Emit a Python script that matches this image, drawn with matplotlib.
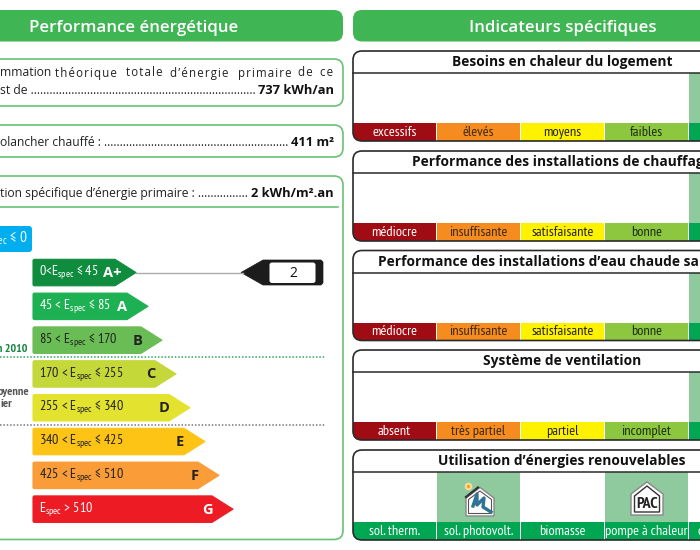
import matplotlib
matplotlib.use("Agg")
import matplotlib.pyplot as plt
from matplotlib import font_manager as fm
from matplotlib.patches import FancyBboxPatch, Polygon, Rectangle

installed = {f.name for f in fm.fontManager.ttflist}
NARROW_NAME = next((n for n in ['PT Sans Narrow', 'Archivo Narrow', 'Roboto Condensed', 'Liberation Sans Narrow'] if n in installed), 'Roboto')
NARROW = [NARROW_NAME, 'DejaVu Sans']

plt.rcParams['font.family'] = ['Open Sans', 'DejaVu Sans']
plt.rcParams['mathtext.fontset'] = 'custom'
plt.rcParams['mathtext.rm'] = NARROW_NAME

GREEN = '#40b553'
LINE = '#68c175'
PALE = '#8fc99e'

# energy classes
classes = ['A+', 'A', 'B', 'C', 'D', 'E', 'F', 'G']
ranges = [r'0<E$_{\mathrm{spec}}$ ≤ 45', r'45 < E$_{\mathrm{spec}}$ ≤ 85', r'85 < E$_{\mathrm{spec}}$ ≤ 170',
          r'170 < E$_{\mathrm{spec}}$ ≤ 255', r'255 < E$_{\mathrm{spec}}$ ≤ 340', r'340 < E$_{\mathrm{spec}}$ ≤ 425',
          r'425 < E$_{\mathrm{spec}}$ ≤ 510', r'E$_{\mathrm{spec}}$ > 510']
class_colors = ['#0f8c3e', '#1eb153', '#6abd54', '#c5d83a', '#e3e32f', '#fdc416', '#fa9c37', '#ed1c24']
class_text = ['white', 'white', '#222222', '#222222', '#222222', '#222222', '#222222', 'white']
letter_x = [112, 122, 137.5, 151, 164, 179.5, 194.5, 207]
arrow_tips = [136, 148, 162, 176, 190, 205, 219, 233]
value = 2

# first text line, spread out word by word like the justified original
line_words = ['théorique', 'totale', 'd’énergie', 'primaire', 'de', 'ce']
line_x = [55, 126, 170, 238, 298, 320]

# indicators
panel_titles = ['Besoins en chaleur du logement', 'Performance des installations de chauffage',
                "Performance des installations d’eau chaude sanitaire", 'Système de ventilation',
                'Utilisation d’énergies renouvelables']
panel_labels = [['excessifs', 'élevés', 'moyens', 'faibles', ''],
                ['médiocre', 'insuffisante', 'satisfaisante', 'bonne', ''],
                ['médiocre', 'insuffisante', 'satisfaisante', 'bonne', ''],
                ['absent', 'très partiel', 'partiel', 'incomplet', ''],
                ['sol. therm.', 'sol. photovolt.', 'biomasse', 'pompe à chaleur', 'cogénération']]
strip_colors = ['#a00c14', '#f68b1f', '#fff200', '#8dc63f', '#00a651']
strip_text = ['white', '#3a2a10', '#222222', '#1d2d10', 'white']
panel_tops = [51, 151, 250.5, 350, 450]

fig = plt.figure(figsize=(7, 5.5), dpi=100)
ax = fig.add_axes([0, 0, 1, 1])
ax.set_xlim(0, 700)
ax.set_ylim(550, 0)
ax.axis('off')


def rbox(x0, y0, x1, y1, r, fc='none', ec='none', lw=1.0, z=1):
    p = FancyBboxPatch((x0, y0), x1 - x0, y1 - y0, boxstyle=f'round,pad=0,rounding_size={r}',
                       fc=fc, ec=ec, lw=lw, zorder=z)
    ax.add_patch(p)
    return p


def house(cx, hw, apex, eave, bottom, fc, ec, lw, z=5):
    pts = [(cx - hw, eave), (cx, apex), (cx + hw, eave), (cx + hw, bottom), (cx - hw, bottom)]
    ax.add_patch(Polygon(pts, closed=True, fc=fc, ec=ec, lw=lw, zorder=z))


# headers
rbox(-20, 10, 343, 41.5, 9, fc=GREEN)
rbox(353, 10, 730, 41.5, 9, fc=GREEN)
ax.text(133.5, 27.5, 'Performance énergétique', color='white', fontsize=12.2, fontweight='semibold', ha='center', va='center')
ax.text(563, 27.5, 'Indicateurs spécifiques', color='white', fontsize=12.2, fontweight='semibold', ha='center', va='center')

# left boxes
rbox(-20, 59, 343, 106, 9, ec=LINE, lw=1.2)
rbox(-20, 125, 343, 157, 9, ec=LINE, lw=1.2)
rbox(-20, 176, 343, 539.5, 9, ec=LINE, lw=1.2)
ax.plot([-5, 338], [207, 207], color=LINE, lw=1.2)

txt = dict(color='#222222', fontsize=8.7, va='center', fontweight='normal')
bold = dict(color='#111111', fontsize=9.3, va='center', ha='right', fontweight='bold')
ax.text(0, 73, 'mmation', **txt)
for word, x in zip(line_words, line_x):
    ax.text(x, 73, '\u200a'.join(word), color='#222222', fontsize=8.3, va='center')
ax.text(0, 91, 'st de ' + '.' * 72, **txt)
ax.text(334, 91, '737 kWh/an', **bold)
ax.text(0, 142.5, 'olancher chauffé : ' + '.' * 59, **txt)
ax.text(334, 142.5, '411 m²', **bold)
ax.text(0, 193.5, 'tion spécifique d’énergie primaire : ' + '.' * 16, **txt)
ax.text(334, 193.5, '2 kWh/m².an', **bold)

# class arrows
rbox(-10, 226, 32, 252, 3, fc='#00aeef')
ax.text(28, 239.5, r'E$_{\mathrm{spec}}$ ≤ 0', color='white', fontsize=11, family=NARROW, ha='right', va='center')
for i, name in enumerate(classes):
    top = 259.3 + i * 33.8
    bot = top + 26.5
    tip = arrow_tips[i]
    ax.add_patch(Polygon([(34, top), (tip - 21, top), (tip, (top + bot) / 2), (tip - 21, bot), (34, bot), (33, bot - 1), (33, top + 1)],
                         closed=True, fc=class_colors[i], ec=class_colors[i], lw=0.8, joinstyle='round'))
    ax.text(39, (top + bot) / 2 + 0.5, ranges[i], color=class_text[i], fontsize=10.2, family=NARROW, va='center')
    ax.text(letter_x[i], (top + bot) / 2 + 0.5, name, color=class_text[i], fontsize=10.5, fontweight='bold', ha='center', va='center')

# value marker
ax.plot([136, 243], [272.5, 272.5], color='#aaaaaa', lw=1)
ax.add_patch(Polygon([(241, 272.5), (263, 260), (321, 260), (323, 262), (323, 283), (321, 285), (263, 285)],
                     closed=True, fc='#1c1c1c', ec='#1c1c1c', lw=0.5))
rbox(269.5, 262.5, 315.5, 283, 2.5, fc='white', z=3)
ax.text(293, 273.5, str(value), fontsize=10, color='#111111', ha='center', va='center', zorder=4, family='Open Sans')

# separators and notes
ax.plot([0, 326], [356.5, 356.5], color='#2fa564', lw=1.1, ls=(0, (1, 1.2)))
ax.plot([0, 326], [424.5, 424.5], color='#777777', lw=1.1, ls=(0, (1, 1.2)))
ax.text(27.5, 349, 'n 2010', color='#16853f', fontsize=8.6, fontweight='bold', family=NARROW, ha='right', va='center')
ax.text(29.5, 392, 'oyenne', color='#555555', fontsize=8.8, fontweight='bold', family=NARROW, ha='right', va='center')
ax.text(12.5, 404, 'ier', color='#555555', fontsize=8.8, fontweight='bold', family=NARROW, ha='right', va='center')

# right hand panels
col_w = 84
for p, top in enumerate(panel_tops):
    clip = rbox(353, top, 730, top + 90, 9, fc='white', z=1)
    ytitle = top + 22
    ystrip = top + 72.3
    for c in range(5):
        x0 = 353 + c * col_w
        w = col_w - 1.2
        if p == 4:
            color = '#00a651'
            lit = c in (1, 3)
        else:
            color = strip_colors[c]
            lit = c == 4
        if lit:
            ax.add_patch(Rectangle((x0, ytitle), w, ystrip - ytitle, fc=PALE, ec='none', zorder=2))
        r = Rectangle((x0, ystrip), w, top + 90 - ystrip, fc=color, ec='none', zorder=2)
        ax.add_patch(r)
        r.set_clip_path(clip)
        tc = 'white' if p == 4 else strip_text[c]
        ax.text(x0 + w / 2, ystrip + 8.8, panel_labels[p][c], color=tc, fontsize=10.4, family=NARROW, ha='center', va='center', zorder=4)
    ax.plot([353, 700], [ytitle, ytitle], color='#2a2a2a', lw=1.1, zorder=5)
    ax.text(562, top + 11, panel_titles[p], color='#111111', fontsize=9.9, fontweight='bold', ha='center', va='center', zorder=5)
    rbox(353, top, 730, top + 90, 9, ec='#2a2a2a', lw=1.2, z=6)

# renewable icons
house(480, 14, 487.5, 498, 516, 'white', '#888888', 1)
house(480, 11.5, 491, 499.5, 513.5, 'white', '#555555', 0.8)
ax.plot([466, 478], [497, 487.5], color='#333333', lw=1.6, zorder=6)
ax.plot([473, 477, 477, 484, 483, 491], [506, 494, 505, 498, 507, 512], color='#2f7396', lw=2.4, zorder=6)
ax.plot([468], [486], 'o', color='#f7a11a', ms=4, mec='#f8dca0', mew=1.5, zorder=6)
house(647, 16, 482, 494, 515, 'white', '#888888', 1)
house(647, 12.5, 486, 496, 512, 'white', '#333333', 1)
ax.text(647, 503.5, 'PAC', color='#222222', fontsize=11.5, fontweight='bold', family=NARROW, ha='center', va='center', zorder=6)

fig.savefig('out.png', dpi=100)
